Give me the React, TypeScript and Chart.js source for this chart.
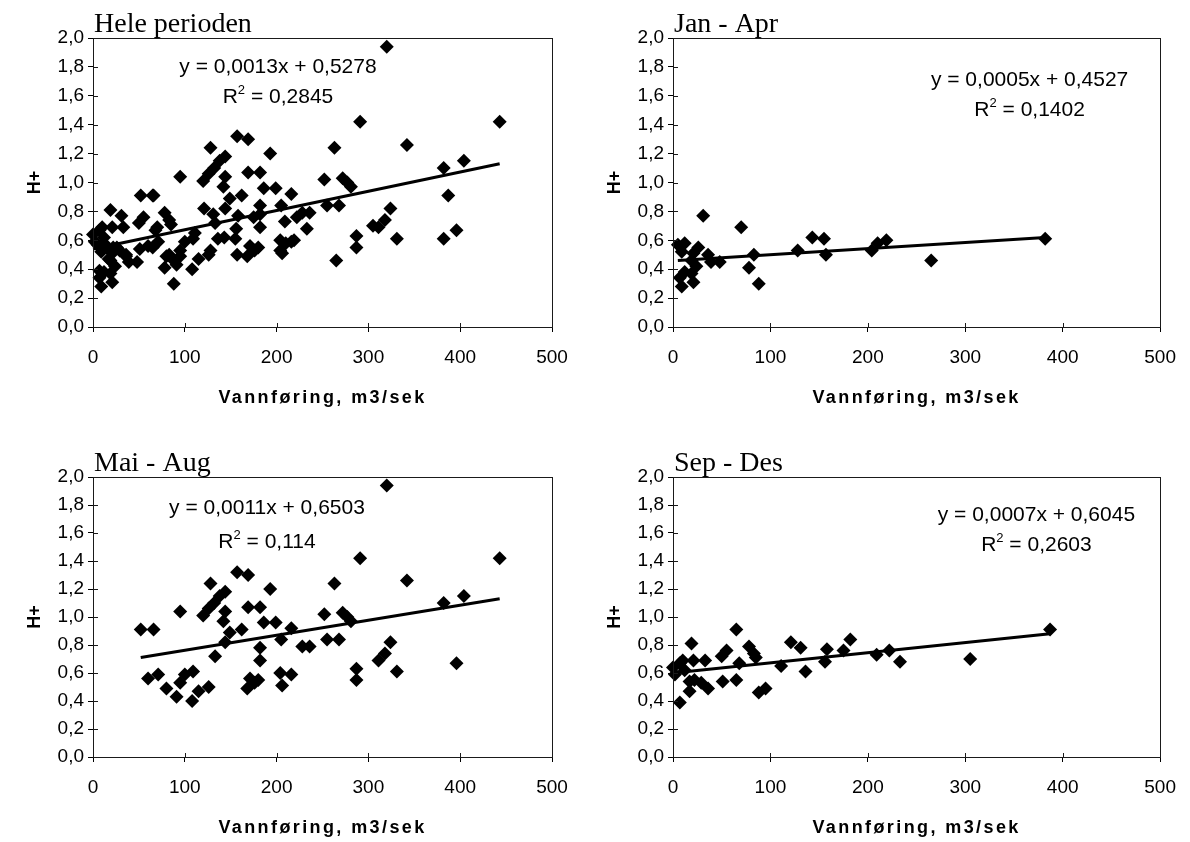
import React, { useEffect, useRef } from "react";
import { Chart, registerables } from "chart.js";

Chart.register(...registerables);

// ---------- data ----------
const xTickValues = [0, 100, 200, 300, 400, 500];
const yTickValues = [0, 0.2, 0.4, 0.6, 0.8, 1.0, 1.2, 1.4, 1.6, 1.8, 2.0];

// Jan - Apr
const janAprX = [5, 7, 9, 9, 12, 12, 19, 19, 21, 21, 24, 26, 31, 36, 39, 48, 70, 78, 83, 88, 128, 143, 155, 157, 204, 210, 219, 265, 382];
const janAprY = [0.57, 0.34, 0.28, 0.52, 0.58, 0.38, 0.46, 0.37, 0.51, 0.31, 0.42, 0.55, 0.77, 0.5, 0.45, 0.45, 0.69, 0.41, 0.5, 0.3, 0.53, 0.62, 0.61, 0.5, 0.53, 0.58, 0.6, 0.46, 0.61];

// Mai - Aug
const maiAugX = [52, 66, 60, 71, 80, 91, 95, 95, 100, 108, 109, 115, 120, 126, 126, 128, 132, 133, 138, 142, 144, 144, 144, 149, 157, 162, 168, 169, 169, 171, 176, 180, 182, 182, 182, 186, 193, 199, 204, 205, 206, 216, 216, 228, 236, 252, 255, 263, 268, 272, 277, 281, 287, 287, 291, 311, 318, 320, 324, 331, 342, 382, 396, 404, 443];
const maiAugY = [0.91, 0.91, 0.56, 0.59, 0.49, 0.43, 1.04, 0.53, 0.59, 0.4, 0.61, 0.47, 1.01, 0.5, 1.06, 1.24, 1.1, 0.72, 1.15, 0.97, 1.04, 1.18, 0.82, 0.89, 1.32, 0.91, 0.49, 1.07, 1.3, 0.56, 0.53, 0.55, 1.07, 0.78, 0.69, 0.96, 1.2, 0.96, 0.6, 0.84, 0.51, 0.92, 0.59, 0.79, 0.79, 1.02, 0.84, 1.24, 0.84, 1.03, 1.0, 0.97, 0.63, 0.55, 1.42, 0.69, 0.74, 1.94, 0.82, 0.61, 1.26, 1.1, 0.67, 1.15, 1.42];

// Sep - Des
const sepDesX = [0, 2, 7, 7, 10, 12, 17, 17, 19, 21, 22, 29, 33, 36, 50, 51, 55, 65, 65, 68, 78, 83, 85, 88, 95, 111, 121, 131, 136, 156, 158, 175, 182, 209, 222, 233, 305, 387];
const sepDesY = [0.64, 0.59, 0.67, 0.39, 0.69, 0.62, 0.47, 0.54, 0.81, 0.69, 0.55, 0.53, 0.69, 0.49, 0.72, 0.54, 0.76, 0.91, 0.55, 0.67, 0.79, 0.74, 0.71, 0.46, 0.49, 0.65, 0.82, 0.78, 0.61, 0.68, 0.77, 0.76, 0.84, 0.73, 0.76, 0.68, 0.7, 0.91];

// Hele perioden = all seasons together
const heleX = [...janAprX, ...maiAugX, ...sepDesX];
const heleY = [...janAprY, ...maiAugY, ...sepDesY];

// trend line end points
const heleTrendX = [0, 443];
const heleTrendY = [0.54, 1.13];
const janAprTrendX = [5, 382];
const janAprTrendY = [0.46, 0.62];
const maiAugTrendX = [52, 443];
const maiAugTrendY = [0.71, 1.13];
const sepDesTrendX = [0, 387];
const sepDesTrendY = [0.6, 0.88];

const titles = ["Hele perioden", "Jan - Apr", "Mai - Aug", "Sep - Des"];
const equations = ["y = 0,0013x + 0,5278", "y = 0,0005x + 0,4527", "y = 0,0011x + 0,6503", "y = 0,0007x + 0,6045"];
const r2Values = ["0,2845", "0,1402", "0,114", "0,2603"];
const xAxisTitle = "Vannføring, m3/sek";
const yAxisTitle = "H+";

// ---------- layout ----------
type Panel = {
  title: string;
  eq: string;
  r2: string;
  xs: number[];
  ys: number[];
  tx: number[];
  ty: number[];
  left: number;
  top: number;
  w: number;
  h: number;
  yW: number;
  xH: number;
  padTop: number;
  padRight: number;
  eqFx: number;
  eqFy1: number;
  eqFy2: number;
};

const panels: Panel[] = [
  { title: titles[0], eq: equations[0], r2: r2Values[0], xs: heleX, ys: heleY, tx: heleTrendX, ty: heleTrendY,
    left: 0, top: 0, w: 595, h: 421, yW: 93, xH: 94, padTop: 38, padRight: 43, eqFx: 0.403, eqFy1: 0.1, eqFy2: 0.204 },
  { title: titles[1], eq: equations[1], r2: r2Values[1], xs: janAprX, ys: janAprY, tx: janAprTrendX, ty: janAprTrendY,
    left: 595, top: 0, w: 595, h: 421, yW: 78, xH: 94, padTop: 38, padRight: 25, eqFx: 0.732, eqFy1: 0.145, eqFy2: 0.249 },
  { title: titles[2], eq: equations[2], r2: r2Values[2], xs: maiAugX, ys: maiAugY, tx: maiAugTrendX, ty: maiAugTrendY,
    left: 0, top: 421, w: 595, h: 421, yW: 93, xH: 85, padTop: 56, padRight: 43, eqFx: 0.379, eqFy1: 0.111, eqFy2: 0.232 },
  { title: titles[3], eq: equations[3], r2: r2Values[3], xs: sepDesX, ys: sepDesY, tx: sepDesTrendX, ty: sepDesTrendY,
    left: 595, top: 421, w: 595, h: 421, yW: 78, xH: 85, padTop: 56, padRight: 25, eqFx: 0.746, eqFy1: 0.136, eqFy2: 0.243 },
];

const SANS = '"Liberation Sans", Arial, sans-serif';
const SERIF = '"Liberation Serif", "Times New Roman", serif';

function makeDecorPlugin(p: Panel) {
  return {
    id: "decor",
    afterDraw(chart: any) {
      const ctx = chart.ctx as CanvasRenderingContext2D;
      const a = chart.chartArea;
      const xs = chart.scales.x;
      const ys = chart.scales.y;
      ctx.save();
      // frame
      ctx.strokeStyle = "#1a1a1a";
      ctx.lineWidth = 1;
      ctx.strokeRect(Math.round(a.left) + 0.5, Math.round(a.top) + 0.5, Math.round(a.right - a.left), Math.round(a.bottom - a.top));
      // inner half of the cross ticks
      ctx.beginPath();
      xTickValues.forEach((v) => {
        const px = Math.round(xs.getPixelForValue(v)) + 0.5;
        ctx.moveTo(px, a.bottom);
        ctx.lineTo(px, a.bottom - 4);
      });
      yTickValues.forEach((v) => {
        const py = Math.round(ys.getPixelForValue(v)) + 0.5;
        ctx.moveTo(a.left, py);
        ctx.lineTo(a.left + 5, py);
      });
      ctx.stroke();

      // panel title
      ctx.fillStyle = "#000";
      ctx.font = `28px ${SERIF}`;
      ctx.textAlign = "left";
      ctx.textBaseline = "alphabetic";
      ctx.fillText(p.title, a.left + 1, a.top - 6);

      // equation
      const w = a.right - a.left;
      const h = a.bottom - a.top;
      const cx = a.left + p.eqFx * w;
      ctx.font = `21px ${SANS}`;
      ctx.textAlign = "center";
      ctx.textBaseline = "middle";
      ctx.fillText(p.eq, cx, a.top + p.eqFy1 * h);
      // R^2 line
      const y2 = a.top + p.eqFy2 * h;
      const rest = " = " + p.r2;
      ctx.font = `21px ${SANS}`;
      const wR = ctx.measureText("R").width;
      const wRest = ctx.measureText(rest).width;
      ctx.font = `13px ${SANS}`;
      const wSup = ctx.measureText("2").width;
      const total = wR + wSup + wRest;
      let x0 = cx - total / 2;
      ctx.textAlign = "left";
      ctx.font = `21px ${SANS}`;
      ctx.fillText("R", x0, y2);
      x0 += wR;
      ctx.font = `13px ${SANS}`;
      ctx.fillText("2", x0, y2 - 7);
      x0 += wSup;
      ctx.font = `21px ${SANS}`;
      ctx.fillText(rest, x0, y2);

      // x axis title
      ctx.font = `bold 18px ${SANS}`;
      (ctx as any).letterSpacing = "2.4px";
      ctx.textAlign = "center";
      ctx.fillText(xAxisTitle, (a.left + a.right) / 2, a.bottom + 71);
      (ctx as any).letterSpacing = "0px";

      // y axis title
      ctx.save();
      ctx.translate(a.left - 58, (a.top + a.bottom) / 2);
      ctx.rotate(-Math.PI / 2);
      ctx.font = `bold 18px ${SANS}`;
      ctx.textAlign = "center";
      ctx.textBaseline = "middle";
      ctx.fillText(yAxisTitle, 0, 0);
      ctx.restore();

      ctx.restore();
    },
  };
}

function PanelChart({ p }: { p: Panel }) {
  const ref = useRef<HTMLCanvasElement | null>(null);
  useEffect(() => {
    if (!ref.current) return;
    const points = p.xs.map((x, i) => ({ x, y: p.ys[i] }));
    const trend = p.tx.map((x, i) => ({ x, y: p.ty[i] }));
    const chart = new Chart(ref.current, {
      type: "scatter",
      data: {
        datasets: [
          {
            data: points,
            pointStyle: "rectRot",
            pointRadius: 7,
            pointHoverRadius: 7,
            backgroundColor: "#000",
            borderColor: "#000",
            borderWidth: 0,
            clip: false,
            order: 2,
          } as any,
          {
            data: trend,
            showLine: true,
            borderColor: "#000",
            borderWidth: 3,
            pointRadius: 0,
            clip: false,
            order: 1,
          } as any,
        ],
      },
      options: {
        animation: false,
        responsive: false,
        events: [],
        layout: { padding: { left: 0, right: p.padRight, top: p.padTop, bottom: 0 } },
        plugins: { legend: { display: false }, tooltip: { enabled: false }, title: { display: false } },
        scales: {
          x: {
            type: "linear",
            min: 0,
            max: 500,
            afterBuildTicks: (s: any) => {
              s.ticks = xTickValues.map((v) => ({ value: v }));
            },
            afterFit: (s: any) => {
              s.height = p.xH;
            },
            ticks: {
              color: "#000",
              font: { family: SANS, size: 19 },
              padding: 14,
              maxRotation: 0,
              callback: (v: any) => String(v),
            },
            grid: { display: true, drawOnChartArea: false, drawTicks: true, tickLength: 5, color: "#000" },
            border: { display: true, color: "#000", width: 1 },
          },
          y: {
            type: "linear",
            min: 0,
            max: 2,
            afterBuildTicks: (s: any) => {
              s.ticks = yTickValues.map((v) => ({ value: v }));
            },
            afterFit: (s: any) => {
              s.width = p.yW;
            },
            ticks: {
              color: "#000",
              font: { family: SANS, size: 19 },
              padding: 4,
              callback: (v: any) => Number(v).toFixed(1).replace(".", ","),
            },
            grid: { display: true, drawOnChartArea: false, drawTicks: true, tickLength: 5, color: "#000" },
            border: { display: true, color: "#000", width: 1 },
          },
        },
      } as any,
      plugins: [makeDecorPlugin(p)],
    });
    return () => chart.destroy();
  }, [p]);
  return (
    <div style={{ position: "absolute", left: p.left, top: p.top, width: p.w, height: p.h }}>
      <canvas ref={ref} width={p.w} height={p.h} style={{ width: p.w, height: p.h, display: "block" }} />
    </div>
  );
}

export default function App() {
  return (
    <div style={{ position: "absolute", left: 0, top: 0, width: 1190, height: 842, background: "#fff", overflow: "hidden" }}>
      {panels.map((p, i) => (
        <PanelChart key={i} p={p} />
      ))}
    </div>
  );
}
